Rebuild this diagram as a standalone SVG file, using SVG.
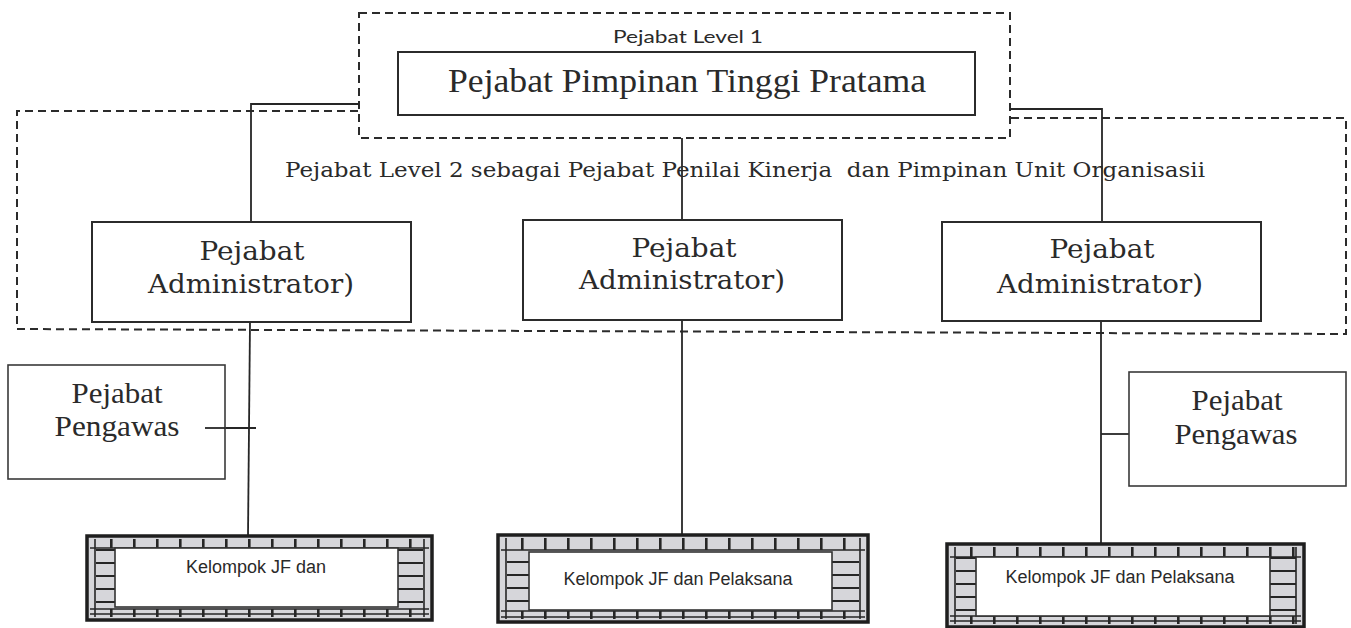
<svg xmlns="http://www.w3.org/2000/svg" width="1351" height="628" viewBox="0 0 1351 628">
  <style>
    .dash { fill: none; stroke: #2b2b2b; stroke-width: 2; stroke-dasharray: 8 5; }
    .box { fill: #ffffff; stroke: #2b2b2b; stroke-width: 2; }
    .box-thin { fill: #ffffff; stroke: #3a3a3a; stroke-width: 1.6; }
    .wire { fill: none; stroke: #262626; stroke-width: 1.8; }
    .serif { font-family: "Liberation Serif", "Times New Roman", serif; fill: #2a2a2a; }
    .book { font-family: "DejaVu Serif", "Liberation Serif", serif; fill: #2a2a2a; }
    .sans { font-family: "Liberation Sans", Arial, sans-serif; fill: #2a2a2a; }
    .cal { font-family: Lato, "Noto Sans", sans-serif; fill: #2a2a2a; }
    .brk-out { fill: #d6d6da; stroke: #1e1e1e; stroke-width: 3.5; }
    .brk-line { stroke: #262626; stroke-width: 1.6; fill: none; }
    .brk-in { fill: #ffffff; stroke: #333333; stroke-width: 1.6; }
  </style>
  <defs>
    <!-- brick courses for the horizontal bands of the border frame -->
    <pattern id="brickRow" width="23" height="40" patternUnits="userSpaceOnUse">
      <rect width="23" height="40" fill="#d6d6da"/>
      <rect x="0" y="0" width="2.6" height="40" fill="#262626"/>
    </pattern>
    <!-- brick courses for the vertical bands of the border frame -->
    <pattern id="brickCol" width="40" height="13" patternUnits="userSpaceOnUse">
      <rect width="40" height="13" fill="#d6d6da"/>
      <rect x="0" y="0" width="40" height="2" fill="#262626"/>
    </pattern>
  </defs>

  <rect width="1351" height="628" fill="#ffffff"/>

  <!-- grouping frames -->
  <g id="level-frames">
    <rect class="dash" x="359" y="13" width="651" height="125"/>
    <path class="dash" d="M358,111 L17,111 L17,329 L1346,334 L1346,118 L1010,118"/>
  </g>

  <!-- connectors -->
  <g id="connectors">
    <path class="wire" d="M359,104 H251 V222"/>
    <path class="wire" d="M682,138 V220"/>
    <path class="wire" d="M1010,109 H1102 V222"/>
    <path class="wire" d="M250,322 L248,536"/>
    <path class="wire" d="M205,428 H256"/>
    <path class="wire" d="M682,320 V535"/>
    <path class="wire" d="M1101,321 V544"/>
    <path class="wire" d="M1101,434 H1129"/>
  </g>

  <g id="level1-label">
    <text class="cal" x="688" y="43" font-size="18" text-anchor="middle" textLength="150" lengthAdjust="spacingAndGlyphs">Pejabat Level 1</text>
  </g>

  <g id="node-jpt">
    <rect class="box" x="398" y="52" width="577" height="63"/>
    <text class="serif" x="687" y="92" font-size="33" text-anchor="middle" textLength="478" lengthAdjust="spacingAndGlyphs">Pejabat Pimpinan Tinggi Pratama</text>
  </g>

  <g id="level2-label">
    <text class="book" x="285" y="177" font-size="21" textLength="920" lengthAdjust="spacingAndGlyphs" xml:space="preserve">Pejabat Level 2 sebagai Pejabat Penilai Kinerja  dan Pimpinan Unit Organisasii</text>
  </g>

  <g id="node-admin-1">
    <rect class="box" x="92" y="222" width="319" height="100"/>
    <text class="book" x="252" y="260" font-size="26" text-anchor="middle" textLength="105" lengthAdjust="spacingAndGlyphs">Pejabat</text>
    <text class="book" x="251" y="293" font-size="26" text-anchor="middle" textLength="206" lengthAdjust="spacingAndGlyphs">Administrator)</text>
  </g>

  <g id="node-admin-2">
    <rect class="box" x="523" y="220" width="319" height="100"/>
    <text class="book" x="684" y="257" font-size="26" text-anchor="middle" textLength="105" lengthAdjust="spacingAndGlyphs">Pejabat</text>
    <text class="book" x="682" y="289" font-size="26" text-anchor="middle" textLength="206" lengthAdjust="spacingAndGlyphs">Administrator)</text>
  </g>

  <g id="node-admin-3">
    <rect class="box" x="942" y="222" width="319" height="99"/>
    <text class="book" x="1102" y="258" font-size="26" text-anchor="middle" textLength="105" lengthAdjust="spacingAndGlyphs">Pejabat</text>
    <text class="book" x="1100" y="293" font-size="26" text-anchor="middle" textLength="206" lengthAdjust="spacingAndGlyphs">Administrator)</text>
  </g>

  <g id="node-pengawas-1">
    <rect class="box-thin" x="8" y="365" width="217" height="114"/>
    <line class="wire" x1="205" y1="428" x2="225" y2="428"/>
    <text class="serif" x="117" y="403" font-size="30" text-anchor="middle" textLength="91" lengthAdjust="spacingAndGlyphs">Pejabat</text>
    <text class="serif" x="117" y="436" font-size="30" text-anchor="middle" textLength="125" lengthAdjust="spacingAndGlyphs">Pengawas</text>
  </g>

  <g id="node-pengawas-2">
    <rect class="box-thin" x="1129" y="372" width="217" height="114"/>
    <text class="serif" x="1237" y="410" font-size="30" text-anchor="middle" textLength="91" lengthAdjust="spacingAndGlyphs">Pejabat</text>
    <text class="serif" x="1236" y="444" font-size="30" text-anchor="middle" textLength="123" lengthAdjust="spacingAndGlyphs">Pengawas</text>
  </g>

  <!-- brick-bordered group boxes -->
  <g id="node-kelompok-1" transform="translate(87,536)">
    <rect class="brk-out" width="345" height="84"/>
    <rect x="3" y="3" width="339" height="9" fill="url(#brickRow)"/>
    <rect x="3" y="73" width="339" height="8" fill="url(#brickRow)"/>
    <rect x="9" y="12" width="19" height="60" fill="url(#brickCol)"/>
    <rect x="311" y="12" width="25" height="60" fill="url(#brickCol)"/>
    <path class="brk-line" d="M3,12 H342 M3,73 H342 M3,78 H342 M8,3 V81 M337,3 V81"/>
    <rect class="brk-in" x="28" y="12" width="283" height="59"/>
    <text class="sans" x="169" y="37" font-size="18" text-anchor="middle">Kelompok JF dan</text>
  </g>

  <g id="node-kelompok-2" transform="translate(498,535)">
    <rect class="brk-out" width="370" height="87"/>
    <rect x="3" y="3" width="364" height="12" fill="url(#brickRow)"/>
    <rect x="3" y="76" width="364" height="8" fill="url(#brickRow)"/>
    <rect x="9" y="15" width="22" height="61" fill="url(#brickCol)"/>
    <rect x="334" y="15" width="27" height="61" fill="url(#brickCol)"/>
    <path class="brk-line" d="M3,15 H367 M3,76 H367 M3,82 H367 M8,3 V84 M362,3 V84"/>
    <rect class="brk-in" x="31" y="17" width="303" height="58"/>
    <text class="sans" x="180" y="50" font-size="18" text-anchor="middle">Kelompok JF dan Pelaksana</text>
  </g>

  <g id="node-kelompok-3" transform="translate(947,544)">
    <rect class="brk-out" width="357" height="83"/>
    <rect x="3" y="3" width="351" height="10" fill="url(#brickRow)"/>
    <rect x="3" y="72" width="351" height="8" fill="url(#brickRow)"/>
    <rect x="9" y="13" width="20" height="59" fill="url(#brickCol)"/>
    <rect x="323" y="13" width="26" height="59" fill="url(#brickCol)"/>
    <path class="brk-line" d="M3,13 H354 M3,72 H354 M3,77 H354 M8,3 V80 M349,3 V80"/>
    <rect class="brk-in" x="29" y="13" width="294" height="59"/>
    <text class="sans" x="173" y="39" font-size="18" text-anchor="middle">Kelompok JF dan Pelaksana</text>
  </g>
</svg>
